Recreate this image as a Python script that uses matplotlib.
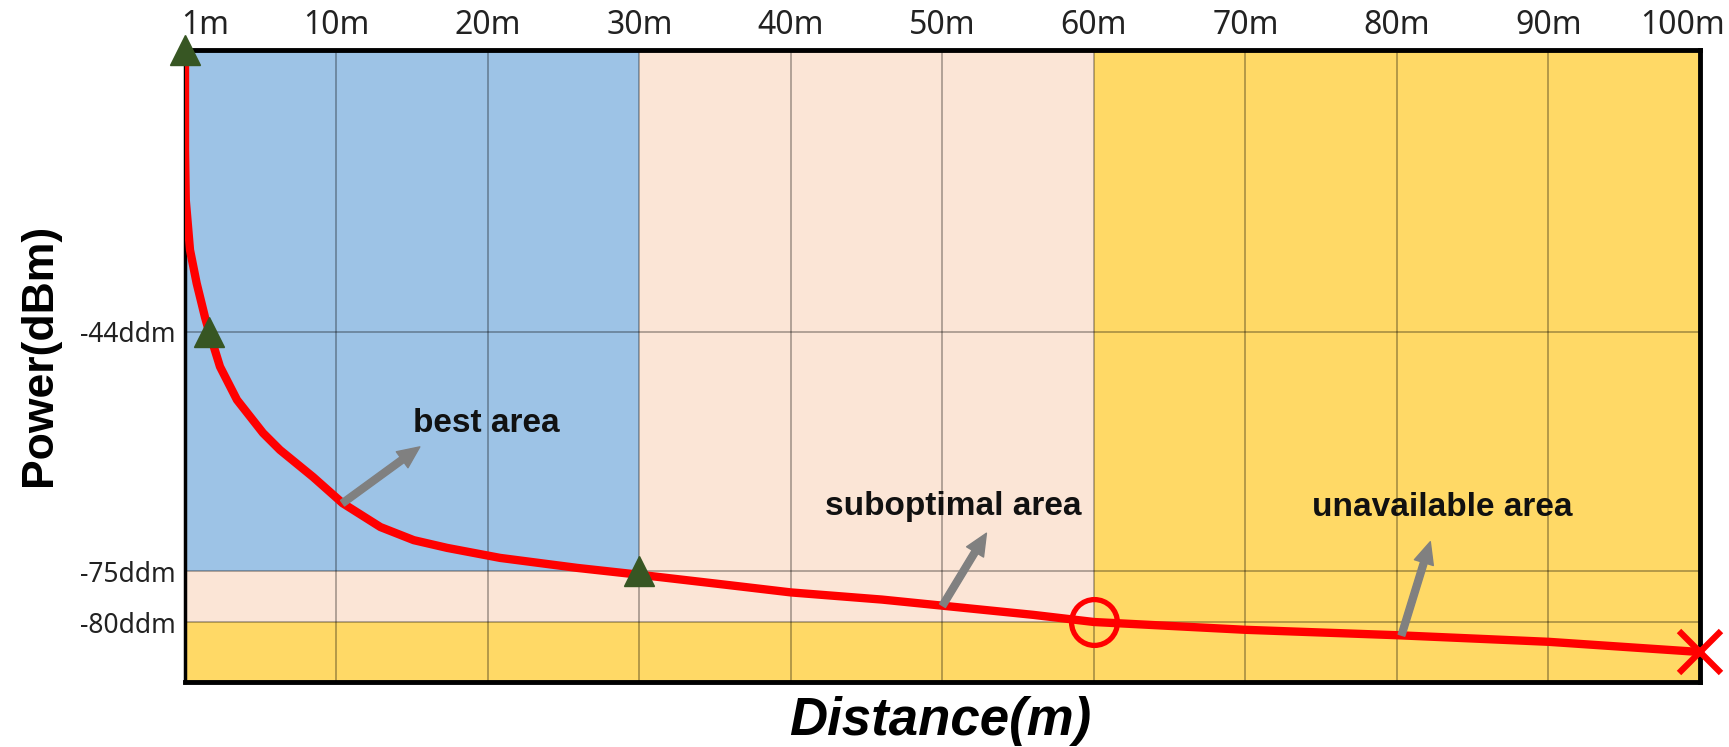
import numpy as np
import matplotlib
matplotlib.use("Agg")
import matplotlib.pyplot as plt
from matplotlib.transforms import ScaledTranslation

# x positions: 0 stands for 1m, then 10 units per 10m tick
DIST_POS = [0, 0, 0.05, 0.33, 0.77, 1.32, 1.6, 2.31, 3.43, 5.15, 6.27, 8.45, 10.4,
            12.9, 15.1, 17.3, 20.8, 25.9, 30.2, 36, 40, 46, 50, 56, 60, 70, 80, 90, 100]
POWER = [0, -15.6, -23.4, -31.2, -36.4, -41.7, -44, -48.5, -52.8, -57.1, -59.3, -62.8,
         -66.2, -69.3, -71.0, -72.0, -73.3, -74.6, -75.4, -76.4, -77.1, -77.8, -78.4,
         -79.3, -80, -81.3, -82.2, -83.3, -85.0]

X_TICKS = [0, 10, 20, 30, 40, 50, 60, 70, 80, 90, 100]
X_LABELS = ["1m", "10m", "20m", "30m", "40m", "50m", "60m", "70m", "80m", "90m", "100m"]
Y_TICKS = [-80, -75, -44]
Y_LABELS = ["-80ddm", "-75ddm", "-44ddm"]

TRI_X = [0, 1.6, 30]
TRI_Y = [0, -44, -75]
LIMIT_X, LIMIT_Y = 60, -80
END_X, END_Y = 100, -85.0

BEST_X, BEST_Y = 30, -75
SUBOPT_X, SUBOPT_Y = 60, -80

# the drawing is schematic: y spacing is not linear in dBm
SCALE_DBM = [-90, -80, -75, -44, 0]
SCALE_POS = [0, 60, 111, 350, 632]


def fwd(y):
    return np.interp(y, SCALE_DBM, SCALE_POS)


def inv(p):
    return np.interp(p, SCALE_POS, SCALE_DBM)


BLUE = "#9DC3E6"
PEACH = "#FBE5D6"
YELLOW = "#FFD966"

fig = plt.figure(figsize=(17.29, 7.47), dpi=100)
ax = fig.add_axes([0.1070, 0.0870, 0.8762, 0.8461])
ax.set_yscale("function", functions=(fwd, inv))
ax.set_xlim(0, 100)
ax.set_ylim(-90, 0)
ax.set_facecolor(YELLOW)

ax.fill_between([0, SUBOPT_X], SUBOPT_Y, 0, color=PEACH, lw=0)
ax.fill_between([0, BEST_X], BEST_Y, 0, color=BLUE, lw=0)

ax.set_xticks(X_TICKS)
ax.set_xticklabels(X_LABELS, family="Noto Sans", fontsize=23, color="#222222")
ax.set_yticks(Y_TICKS)
ax.set_yticklabels(Y_LABELS, family="Noto Sans", fontsize=19, color="#222222")
ax.minorticks_off()
ax.xaxis.tick_top()
ax.tick_params(axis="x", length=0, pad=6)
ax.tick_params(axis="y", length=0, pad=7)

xl = ax.get_xticklabels()
xl[0].set_transform(xl[0].get_transform() + ScaledTranslation(0.20, 0, fig.dpi_scale_trans))
xl[-1].set_transform(xl[-1].get_transform() + ScaledTranslation(-0.17, 0, fig.dpi_scale_trans))

ax.grid(True, color="black", alpha=0.35, lw=1.2)

for side in ["top", "bottom", "right"]:
    ax.spines[side].set_linewidth(3.5)
ax.spines["left"].set_linewidth(2.5)

ax.plot(DIST_POS, POWER, color="#FF0000", lw=6, solid_capstyle="round",
        solid_joinstyle="round", zorder=3)
ax.plot(TRI_X, TRI_Y, ls="none", marker="^", ms=22, color="#375623", zorder=4, clip_on=False)
ax.plot([LIMIT_X], [LIMIT_Y], ls="none", marker="o", ms=33, mfc="none", mec="#FF0000",
        mew=3.8, zorder=4)
ax.plot([END_X], [END_Y], ls="none", marker="x", ms=30, color="#FF0000", mew=4.5,
        zorder=4, clip_on=False)

arrow = dict(arrowstyle="simple,head_width=0.95,head_length=1.05,tail_width=0.33",
             color="#808080", mutation_scale=15, shrinkA=0, shrinkB=0)
ax.annotate("", xy=(15.5, -58.9), xytext=(10.4, -66.2), arrowprops=arrow, zorder=5)
ax.annotate("", xy=(52.9, -70.1), xytext=(50.0, -78.4), arrowprops=arrow, zorder=5)
ax.annotate("", xy=(82.2, -71.2), xytext=(80.3, -82.2), arrowprops=arrow, zorder=5)

txt = dict(family="Liberation Sans", fontweight="bold", fontsize=24, color="#111111",
           ha="center", va="center", zorder=6)
ax.text(19.9, -55.9, "best area", **txt)
ax.text(50.7, -66.6, "suboptimal area", **txt)
ax.text(83.0, -66.8, "unavailable area", **txt)

fig.text(0.0226, 0.525, "Power(dBm)", rotation=90, ha="center", va="center",
         family="Liberation Sans", fontweight="bold", fontsize=32)
fig.text(0.5437, 0.035, "Distance(m)", ha="center", va="center",
         family="Liberation Sans", fontweight="bold", style="italic", fontsize=38)

fig.savefig("out.png", dpi=100)
